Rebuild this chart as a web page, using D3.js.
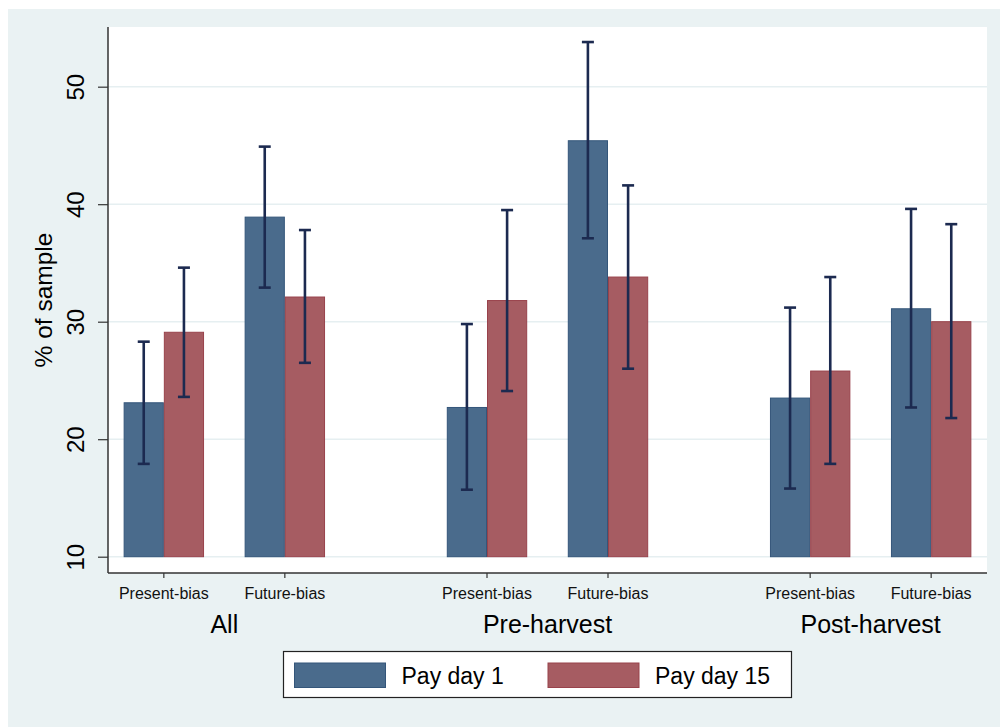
<!DOCTYPE html>
<html>
<head>
<meta charset="utf-8">
<script src="https://cdn.jsdelivr.net/npm/d3@7"></script>
<style>
  html, body { margin: 0; padding: 0; background: #ffffff; }
  svg { display: block; font-family: "Liberation Sans", Arial, sans-serif; }
</style>
</head>
<body>
<svg id="chart" width="1000" height="727"></svg>
<script>
// Groups, bias types and series
const groups = ["All", "Pre-harvest", "Post-harvest"];
const biasTypes = ["Present-bias", "Future-bias"];
const series = ["Pay day 1", "Pay day 15"];

// Percent of sample, ordered All(P,F), Pre-harvest(P,F), Post-harvest(P,F)
const payDay1 = [23.1, 38.9, 22.7, 45.4, 23.5, 31.1];
const payDay15 = [29.1, 32.1, 31.8, 33.8, 25.8, 30.0];

// Confidence interval bounds
const payDay1Low = [17.9, 32.9, 15.7, 37.1, 15.8, 22.7];
const payDay1High = [28.3, 44.9, 29.8, 53.8, 31.2, 39.6];
const payDay15Low = [23.6, 26.5, 24.1, 26.0, 17.9, 21.8];
const payDay15High = [34.6, 37.8, 39.5, 41.6, 33.8, 38.3];

const yTicks = [10, 20, 30, 40, 50];

const colors = {
  "Pay day 1": { fill: "#4A6B8C", stroke: "#34567A" },
  "Pay day 15": { fill: "#A65C62", stroke: "#98424B" }
};

const svg = d3.select("#chart");
const W = 1000, H = 727;
const plot = { left: 108, right: 987, top: 27, bottom: 573 };

// Outer background
svg.append("rect").attr("x", 8).attr("y", 9).attr("width", W - 8).attr("height", H - 9)
  .attr("fill", "#EAF2F3");
// Plot region
svg.append("rect").attr("x", plot.left).attr("y", plot.top)
  .attr("width", plot.right - plot.left).attr("height", plot.bottom - plot.top)
  .attr("fill", "#ffffff");

// Scales
const y = d3.scaleLinear().domain([8.613, 55.08]).range([plot.bottom, plot.top]);
const xGroup = d3.scalePoint().domain(groups).range([plot.left, plot.right]).padding(0.36);
const xBias = d3.scalePoint().domain(biasTypes).range([-60.5, 60.5]);
const xSeries = d3.scaleBand().domain(series).range([-40.2, 40.2]);

// Gridlines
svg.append("g").selectAll("line").data(yTicks).join("line")
  .attr("x1", plot.left).attr("x2", plot.right)
  .attr("y1", d => y(d)).attr("y2", d => y(d))
  .attr("stroke", "#E6EFF1").attr("stroke-width", 1.6);

// Build records
const rows = [];
groups.forEach((g, gi) => {
  biasTypes.forEach((b, bi) => {
    const i = gi * 2 + bi;
    rows.push({ group: g, bias: b, series: "Pay day 1", value: payDay1[i], lo: payDay1Low[i], hi: payDay1High[i] });
    rows.push({ group: g, bias: b, series: "Pay day 15", value: payDay15[i], lo: payDay15Low[i], hi: payDay15High[i] });
  });
});
const tickX = d => xGroup(d.group) + xBias(d.bias);
const barX = d => tickX(d) + xSeries(d.series);
const base = y(10);

// Bars
svg.append("g").selectAll("rect").data(rows).join("rect")
  .attr("x", d => barX(d) + 0.5)
  .attr("y", d => y(d.value))
  .attr("width", xSeries.bandwidth() - 1)
  .attr("height", d => base - y(d.value))
  .attr("fill", d => colors[d.series].fill)
  .attr("stroke", d => colors[d.series].stroke)
  .attr("stroke-width", 1);

// Error bars
const eb = svg.append("g").attr("stroke", "#1C2A50").attr("stroke-width", 2.6).attr("fill", "none");
rows.forEach(d => {
  const cx = barX(d) + xSeries.bandwidth() / 2;
  eb.append("line").attr("x1", cx).attr("x2", cx).attr("y1", y(d.hi)).attr("y2", y(d.lo));
  eb.append("line").attr("x1", cx - 6).attr("x2", cx + 6).attr("y1", y(d.hi)).attr("y2", y(d.hi));
  eb.append("line").attr("x1", cx - 6).attr("x2", cx + 6).attr("y1", y(d.lo)).attr("y2", y(d.lo));
});

// Y axis
const yAxis = svg.append("g").attr("transform", `translate(${plot.left},0)`)
  .call(d3.axisLeft(y).tickValues(yTicks).tickSize(10).tickSizeOuter(0).tickFormat(d3.format("d")));
yAxis.select(".domain").attr("stroke", "#333").attr("stroke-width", 1.5)
  .attr("d", `M0,${plot.top}V${plot.bottom}`);
yAxis.selectAll(".tick line").attr("stroke", "#333").attr("stroke-width", 1.2);
yAxis.selectAll(".tick text")
  .attr("font-size", 24).attr("fill", "#000")
  .attr("text-anchor", "middle")
  .attr("x", null).attr("dy", null)
  .attr("transform", "translate(-24.5,0) rotate(-90)");

// Y title
svg.append("text")
  .attr("transform", `translate(52,${(plot.top + plot.bottom) / 2}) rotate(-90)`)
  .attr("text-anchor", "middle").attr("font-size", 24.5).attr("fill", "#000")
  .text("% of sample");

// X axis line and ticks
const xAxis = svg.append("g");
xAxis.append("line").attr("x1", plot.left).attr("x2", plot.right)
  .attr("y1", plot.bottom).attr("y2", plot.bottom)
  .attr("stroke", "#333").attr("stroke-width", 1.5);
const tickRows = [];
groups.forEach(g => biasTypes.forEach(b => tickRows.push({ group: g, bias: b })));
xAxis.selectAll(".xt").data(tickRows).join("line")
  .attr("x1", tickX).attr("x2", tickX)
  .attr("y1", plot.bottom).attr("y2", plot.bottom + 5)
  .attr("stroke", "#333").attr("stroke-width", 1.2);
xAxis.selectAll(".xl").data(tickRows).join("text")
  .attr("x", tickX).attr("y", 599)
  .attr("text-anchor", "middle").attr("font-size", 16).attr("fill", "#111")
  .text(d => d.bias);
xAxis.selectAll(".gl").data(groups).join("text")
  .attr("x", d => xGroup(d)).attr("y", 633)
  .attr("text-anchor", "middle").attr("font-size", 25).attr("fill", "#000")
  .text(d => d);

// Legend
const legend = svg.append("g");
legend.append("rect").attr("x", 283.5).attr("y", 651.5).attr("width", 508).attr("height", 46)
  .attr("fill", "#ffffff").attr("stroke", "#222").attr("stroke-width", 1.2);
const legendX = [294.5, 548];
series.forEach((s, i) => {
  legend.append("rect").attr("x", legendX[i]).attr("y", 663).attr("width", 91).attr("height", 24.5)
    .attr("fill", colors[s].fill).attr("stroke", colors[s].stroke).attr("stroke-width", 1);
  legend.append("text").attr("x", legendX[i] + 107).attr("y", 683.5)
    .attr("font-size", 23).attr("fill", "#000").text(s);
});
</script>
</body>
</html>
